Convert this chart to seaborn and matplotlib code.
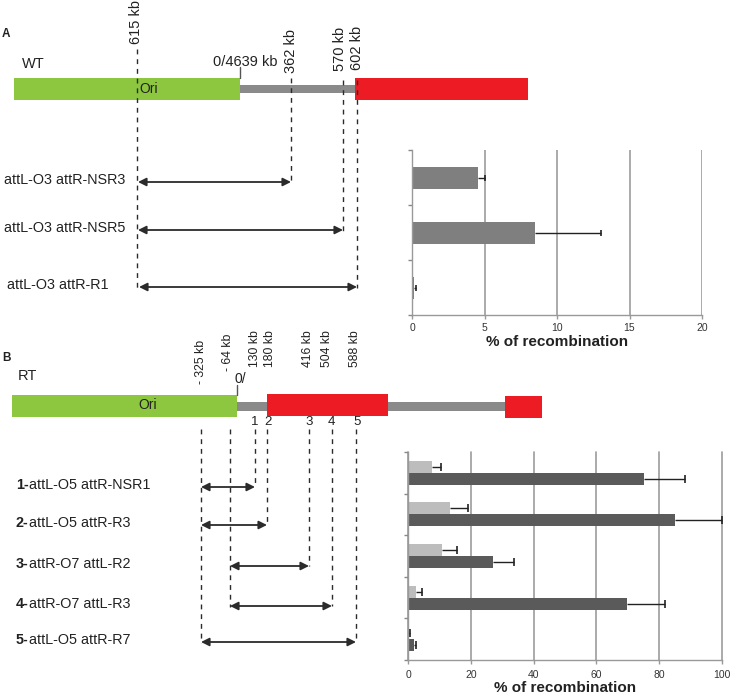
import matplotlib
matplotlib.use("Agg")
import matplotlib.pyplot as plt
import seaborn as sns
import pandas as pd
import numpy as np
from matplotlib.patches import Rectangle
from matplotlib.container import BarContainer

sns.set_theme(style="white")
plt.rcParams['font.family'] = ['Liberation Sans', 'DejaVu Sans']

# ---------------- data ----------------
a_constructs = ["attL-O3 attR-NSR3", "attL-O3 attR-NSR5", "attL-O3 attR-R1"]
a_values = [4.55, 8.45, 0.12]
a_errors = [0.45, 4.55, 0.15]

b_numbers = ["1-", "2-", "3-", "4-", "5-"]
b_constructs = ["attL-O5 attR-NSR1", "attL-O5 attR-R3", "attR-O7 attL-R2",
                "attR-O7 attL-R3", "attL-O5 attR-R7"]
b_series = ["series 1", "series 2"]
b_light = [7.6, 13.3, 10.8, 2.7, 0.3]
b_light_err = [2.9, 5.8, 4.8, 1.8, 0.2]
b_dark = [75.0, 85.1, 27.0, 69.7, 2.0]
b_dark_err = [13.1, 14.9, 6.6, 12.3, 0.65]

wt_kb_labels = ["615 kb", "362 kb", "570 kb", "602 kb"]
rt_kb_labels = ["- 325 kb", "- 64 kb", "130 kb", "180 kb", "416 kb", "504 kb", "588 kb"]
rt_site_numbers = ["1", "2", "3", "4", "5"]

# ---------------- layout (schematic, pixel units) ----------------
GREEN, RED, GREY = "#8DC63F", "#ED1C24", "#8a8a8a"
DARK = "#2b2b2b"
TXT = "#222222"
LABEL_FS = 10.4

fig = plt.figure(figsize=(7.4, 6.96), dpi=100)
ax0 = fig.add_axes([0, 0, 1, 1])
ax0.set_xlim(0, 740)
ax0.set_ylim(696, 0)
ax0.axis("off")
ax0.set_zorder(0)

def bar(x0, x1, y0, y1, c):
    ax0.add_patch(Rectangle((x0, y0), x1 - x0, y1 - y0, color=c, lw=0))

def dash(x, y0, y1):
    ax0.plot([x, x], [y0, y1], ls=(0, (3.5, 3.5)), color=DARK, lw=1.0)

def arrow(x0, x1, y):
    ax0.annotate("", xy=(x1, y), xytext=(x0, y),
                 arrowprops=dict(arrowstyle="<|-|>", color=DARK, lw=1.3,
                                 mutation_scale=12, shrinkA=0, shrinkB=0))

# Panel A schematic
ax0.text(2, 34, "A", fontsize=8.5, fontweight="bold", va="center", color=TXT)
ax0.text(22, 64, "WT", fontsize=10.5, va="center", color=TXT)
bar(240, 355, 85, 93, GREY)
bar(14, 240, 78, 100, GREEN)
bar(355, 528, 78, 100, RED)
ax0.plot([240, 240], [67, 78], color="#555555", lw=1)
ax0.text(245, 69, "0/4639 kb", fontsize=10.5, ha="center", va="bottom", color=TXT)
ax0.text(149, 89, "Ori", fontsize=10, ha="center", va="center", color=TXT)

wt_lab_x = [136, 291, 340, 357]
wt_lab_bottom = [44, 73, 71, 70]
for lab, x, yb in zip(wt_kb_labels, wt_lab_x, wt_lab_bottom):
    ax0.text(x, yb, lab, rotation=90, ha="center", va="bottom", fontsize=10.5, color=TXT)
wt_dash = [(137, 49, 291), (291, 78, 183), (343, 80, 231), (357, 80, 288)]
for x, y0, y1 in wt_dash:
    dash(x, y0, y1)
wt_rows = [(138, 291, 182), (138, 343, 230), (139, 357, 287)]
wt_lab_left = [4, 4, 7]
for (x0, x1, y), lab, lx in zip(wt_rows, a_constructs, wt_lab_left):
    arrow(x0, x1, y)
    ax0.text(lx, y - 2, lab, fontsize=LABEL_FS, va="center", color=TXT)

# Panel B schematic
ax0.text(2, 358, "B", fontsize=8.5, fontweight="bold", va="center", color=TXT)
ax0.text(18, 376, "RT", fontsize=10.5, va="center", color=TXT)
bar(237, 507, 402, 411, GREY)
bar(12, 237, 395, 417, GREEN)
bar(267, 388, 394, 416, RED)
bar(505, 542, 396, 418, RED)
ax0.plot([237, 237], [385, 395], color="#555555", lw=1)
ax0.text(240, 379, "0/", fontsize=10, ha="center", va="center", color=TXT)
ax0.text(148, 405, "Ori", fontsize=10, ha="center", va="center", color=TXT)

rt_lab_x = [201, 228, 255, 270, 308, 327, 355]
rt_lab_bottom = [384, 371, 367, 367, 367, 367, 367]
for lab, x, yb in zip(rt_kb_labels, rt_lab_x, rt_lab_bottom):
    ax0.text(x, yb, lab, rotation=90, ha="center", va="bottom", fontsize=8.8, color=TXT)
for lab, x in zip(rt_site_numbers, [255, 268, 309, 331, 357]):
    ax0.text(x, 422, lab, ha="center", va="center", fontsize=9.5, color=TXT)
rt_dash = [(201, 429, 643), (230, 429, 607), (255, 429, 487), (267, 429, 525),
           (309, 429, 566), (332, 429, 606), (356, 429, 642)]
for x, y0, y1 in rt_dash:
    dash(x, y0, y1)
rt_rows = [(201, 255, 487), (201, 267, 525), (230, 309, 566), (230, 332, 606), (201, 356, 642)]
fig.canvas.draw()
rend = fig.canvas.get_renderer()
for (x0, x1, y), num, lab in zip(rt_rows, b_numbers, b_constructs):
    arrow(x0, x1, y)
    t = ax0.text(16, y - 2, num, fontsize=LABEL_FS, fontweight="bold", va="center", color=TXT)
    w = t.get_window_extent(renderer=rend).width
    ax0.text(16 + w, y - 2, lab, fontsize=LABEL_FS, va="center", color=TXT)

# ---------------- bar charts ----------------
def style_axis(ax, n, xmax, step, tickpad, labelpad):
    ax.set_facecolor("none")
    ax.set_xlim(0, xmax)
    ax.set_ylim(n - 0.5, -0.5)
    ax.set_xticks(np.arange(0, xmax + 1, step))
    ax.tick_params(axis="x", labelsize=7.5, colors="#333333", length=3,
                   color="#999999", width=1, pad=tickpad, bottom=True)
    ax.set_yticks([])
    ax.set_yticks(np.arange(-0.5, n, 1.0), minor=True)
    ax.tick_params(axis="y", which="minor", left=True, length=3, color="#888888", width=1)
    ax.set_ylabel("")
    ax.grid(axis="x", color="#9c9c9c", lw=1.2)
    ax.set_axisbelow(True)
    for s in ["top", "right"]:
        ax.spines[s].set_visible(False)
    for s in ["left", "bottom"]:
        ax.spines[s].set_color("#999999")
        ax.spines[s].set_linewidth(1)
    ax.set_xlabel("% of recombination", fontsize=11, fontweight="bold", labelpad=labelpad,
                  color=TXT)

def add_errors(ax, err_lists, capsize):
    bars = [c for c in ax.containers if isinstance(c, BarContainer)]
    for cont, errs in zip(bars, err_lists):
        ys = np.array([p.get_y() + p.get_height() / 2 for p in cont.patches])
        xs = np.array([p.get_width() for p in cont.patches])
        ends = xs + np.array(errs)
        ax.hlines(ys, xs, ends, color="#222222", lw=1, zorder=4, clip_on=False)
        ax.plot(ends, ys, ls="none", marker="|", ms=capsize, mew=1.2, color="#222222",
                zorder=4, clip_on=False)

# Panel A bars
axA = fig.add_axes([412 / 740, 1 - 315 / 696, 290 / 740, 165 / 696])
dfA = pd.DataFrame({"construct": a_constructs, "value": a_values})
sns.barplot(data=dfA, y="construct", x="value", orient="h", color="#7f7f7f",
            saturation=1, width=0.4, errorbar=None, linewidth=0, ax=axA)
add_errors(axA, [a_errors], 5)
style_axis(axA, 3, 20, 5, tickpad=3, labelpad=1)

# Panel B bars
axB = fig.add_axes([408 / 740, 1 - 660 / 696, 314 / 740, 208 / 696])
dfB = pd.DataFrame({
    "construct": b_constructs * 2,
    "series": [b_series[0]] * 5 + [b_series[1]] * 5,
    "value": b_light + b_dark,
})
sns.barplot(data=dfB, y="construct", x="value", hue="series", orient="h",
            palette=["#bdbdbd", "#5a5a5a"], saturation=1, width=0.58,
            errorbar=None, legend=False, linewidth=0, ax=axB)
add_errors(axB, [b_light_err, b_dark_err], 6)
style_axis(axB, 5, 100, 20, tickpad=4, labelpad=1)
for gl in axB.xaxis.get_gridlines():
    gl.set_clip_on(False)

fig.savefig("out.png", dpi=100)
